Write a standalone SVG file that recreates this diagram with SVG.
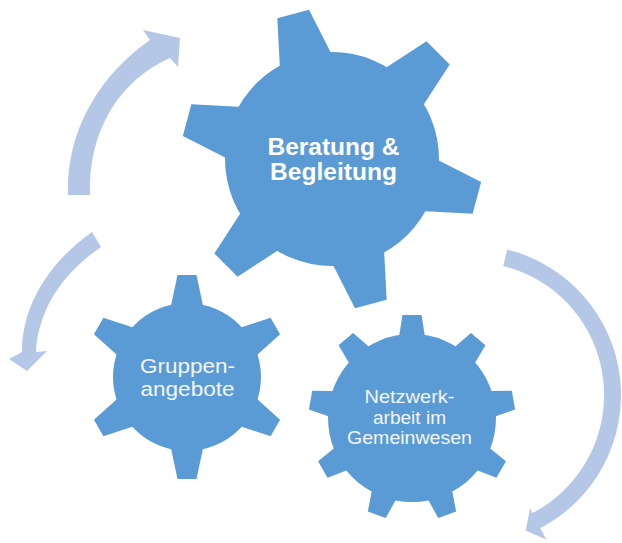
<svg xmlns="http://www.w3.org/2000/svg" xmlns:xlink="http://www.w3.org/1999/xlink" width="622" height="543" viewBox="0 0 622 543">
<style>
.gear{fill:#5b9bd5}
.arrow{fill:#b4c7e7}
.tb{font-family:"Liberation Sans",Arial,sans-serif;font-weight:bold;fill:#ffffff;text-anchor:middle}
.tn{font-family:"Liberation Sans",Arial,sans-serif;fill:#f3f6fb;text-anchor:middle}
</style>
<defs>
<polygon id="toothA" points="-16.4,-150 16.4,-150 28.1,-95 -28.1,-95"/>
<polygon id="toothB" points="-9.5,-102 9.5,-102 18,-62 -18,-62"/>
<polygon id="toothC" points="-9.5,-103 9.5,-103 14.8,-70 -14.8,-70"/>
</defs>
<rect width="622" height="543" fill="#ffffff"/>
<g id="connectors">
<path class="arrow" d="M68,195 C66,130 100,75 150,40 L143,30 L180,38 L178,67 L170,58 C120,80 88,130 90,195 Z"/>
<path class="arrow" d="M92,232 C55,258 22,300 22,352 L9,359 L27,371 L47,351 L36,352 C38,312 60,275 101,247 Z"/>
<path class="arrow" d="M507.3,249.5 A150,150 0 0 1 540.3,528.1 L546.3,539.6 L525.7,530.4 L530.1,508.5 L532.4,513 A133,133 0 0 0 503.2,265.9 Z"/>
</g>
<g id="node-beratung" class="gear">
<circle cx="332" cy="159" r="107"/>
<use xlink:href="#toothA" transform="translate(332,159) rotate(-15)"/>
<use xlink:href="#toothA" transform="translate(332,159) rotate(45)"/>
<use xlink:href="#toothA" transform="translate(332,159) rotate(105)"/>
<use xlink:href="#toothA" transform="translate(332,159) rotate(165)"/>
<use xlink:href="#toothA" transform="translate(332,159) rotate(225)"/>
<use xlink:href="#toothA" transform="translate(332,159) rotate(285)"/>
<text class="tb" font-size="23.5" x="333.5" y="155" textLength="132" lengthAdjust="spacingAndGlyphs">Beratung &amp;</text>
<text class="tb" font-size="23.5" x="333.5" y="180" textLength="127" lengthAdjust="spacingAndGlyphs">Begleitung</text>
</g>
<g id="node-gruppen" class="gear">
<circle cx="187" cy="377" r="74"/>
<use xlink:href="#toothB" transform="translate(187,377) rotate(0)"/>
<use xlink:href="#toothB" transform="translate(187,377) rotate(60)"/>
<use xlink:href="#toothB" transform="translate(187,377) rotate(120)"/>
<use xlink:href="#toothB" transform="translate(187,377) rotate(180)"/>
<use xlink:href="#toothB" transform="translate(187,377) rotate(240)"/>
<use xlink:href="#toothB" transform="translate(187,377) rotate(300)"/>
<text class="tn" font-size="20.5" x="187.5" y="372.5" textLength="95" lengthAdjust="spacingAndGlyphs">Gruppen-</text>
<text class="tn" font-size="20.5" x="187.5" y="395.5" textLength="94" lengthAdjust="spacingAndGlyphs">angebote</text>
</g>
<g id="node-netzwerk" class="gear">
<circle cx="412" cy="418" r="84"/>
<use xlink:href="#toothC" transform="translate(412,418) rotate(0)"/>
<use xlink:href="#toothC" transform="translate(412,418) rotate(40)"/>
<use xlink:href="#toothC" transform="translate(412,418) rotate(80)"/>
<use xlink:href="#toothC" transform="translate(412,418) rotate(120)"/>
<use xlink:href="#toothC" transform="translate(412,418) rotate(160)"/>
<use xlink:href="#toothC" transform="translate(412,418) rotate(200)"/>
<use xlink:href="#toothC" transform="translate(412,418) rotate(240)"/>
<use xlink:href="#toothC" transform="translate(412,418) rotate(280)"/>
<use xlink:href="#toothC" transform="translate(412,418) rotate(320)"/>
<text class="tn" font-size="19" x="409.5" y="403" textLength="90" lengthAdjust="spacingAndGlyphs">Netzwerk-</text>
<text class="tn" font-size="19" x="409.5" y="424" textLength="73" lengthAdjust="spacingAndGlyphs">arbeit im</text>
<text class="tn" font-size="19" x="409.5" y="444" textLength="125" lengthAdjust="spacingAndGlyphs">Gemeinwesen</text>
</g>
</svg>
